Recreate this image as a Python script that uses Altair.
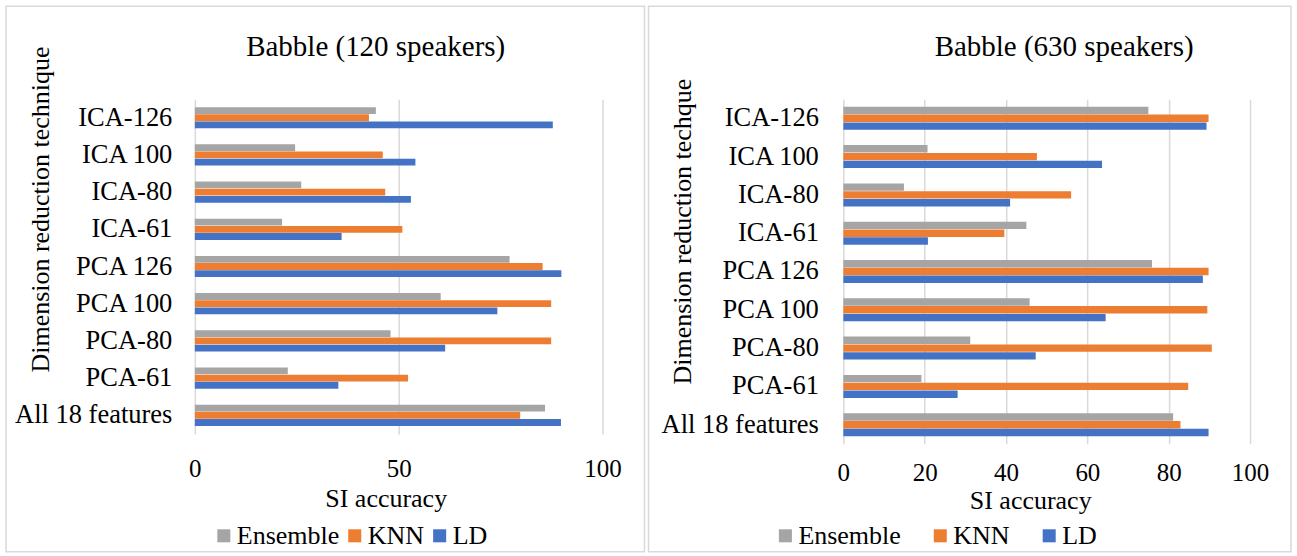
import altair as alt
import pandas as pd

# Feature sets (top to bottom) and the three classifiers
categories = ["ICA-126", "ICA 100", "ICA-80", "ICA-61", "PCA 126",
              "PCA 100", "PCA-80", "PCA-61", "All 18 features"]
series = ["Ensemble", "KNN", "LD"]
colors = ["#A5A5A5", "#ED7D31", "#4472C4"]

# SI accuracy, babble noise with 120 speakers
ens_120 = [44.4, 24.6, 26.1, 21.4, 77.2, 60.3, 48.0, 22.8, 85.9]
knn_120 = [42.7, 46.1, 46.7, 50.9, 85.3, 87.4, 87.4, 52.3, 79.8]
ld_120 = [87.8, 54.1, 53.0, 36.0, 89.9, 74.2, 61.4, 35.2, 89.8]

# SI accuracy, babble noise with 630 speakers
ens_630 = [75.0, 20.7, 14.9, 45.0, 75.9, 45.8, 31.2, 19.2, 81.1]
knn_630 = [89.8, 47.6, 56.0, 39.6, 89.8, 89.5, 90.6, 84.8, 82.9]
ld_630 = [89.3, 63.6, 41.0, 20.8, 88.4, 64.5, 47.3, 28.1, 89.8]

ticks_120 = [0, 50, 100]
ticks_630 = [0, 20, 40, 60, 80, 100]

FONT = "Liberation Serif"
GRID = "#D9D9D9"


def long_table(ens, knn, ld):
    rows = []
    for name, vals in zip(series, [ens, knn, ld]):
        for cat, v in zip(categories, vals):
            rows.append({"technique": cat, "classifier": name, "accuracy": v})
    return pd.DataFrame(rows)


one = pd.DataFrame({"k": [0]})


def panel(df, title, ytitle, ticks, w, h, frame, title_x, ytitle_xy,
          xtitle_xy, x_label_pad, y_label_pad, band_pad, legend_xy, legend_gap):
    border = alt.Chart(one).mark_rect(
        fillOpacity=0, stroke=GRID, strokeWidth=1.5
    ).encode(
        x=alt.value(frame[0]), x2=alt.value(frame[1]),
        y=alt.value(frame[2]), y2=alt.value(frame[3]),
    )
    bars = alt.Chart(df).mark_bar().encode(
        y=alt.Y(
            "technique:N", sort=categories,
            scale=alt.Scale(paddingInner=band_pad, paddingOuter=band_pad / 2),
            axis=alt.Axis(
                title=ytitle, domain=False, ticks=False, grid=False,
                labelFont=FONT, labelFontSize=26.5, labelColor="black",
                labelPadding=y_label_pad,
                titleFont=FONT, titleFontSize=26, titleFontWeight="normal",
                titleColor="black", titleAngle=270, titleAlign="center",
                titleBaseline="middle",
                titleX=ytitle_xy[0], titleY=ytitle_xy[1],
            ),
        ),
        yOffset=alt.YOffset("classifier:N", sort=series,
                            scale=alt.Scale(paddingInner=0.05)),
        x=alt.X(
            "accuracy:Q",
            scale=alt.Scale(domain=[0, 100], nice=False),
            axis=alt.Axis(
                title="SI accuracy", values=ticks, domain=False, ticks=False,
                grid=True, gridColor=GRID, gridWidth=1.5, labelFlush=False,
                labelFont=FONT, labelFontSize=25, labelColor="black",
                labelPadding=x_label_pad,
                titleFont=FONT, titleFontSize=26, titleFontWeight="normal",
                titleColor="black", titleBaseline="top", titleAlign="center",
                titleX=xtitle_xy[0], titleY=xtitle_xy[1],
            ),
        ),
        color=alt.Color(
            "classifier:N", sort=series,
            scale=alt.Scale(domain=series, range=colors),
            legend=alt.Legend(
                title=None, orient="none", direction="horizontal",
                legendX=legend_xy[0], legendY=legend_xy[1],
                symbolType="square", symbolSize=170, symbolStrokeWidth=0,
                symbolOpacity=1, labelFont=FONT, labelFontSize=26,
                labelColor="black", labelOffset=0, columnPadding=legend_gap,
                padding=0,
            ),
        ),
    )
    heading = alt.Chart(one).mark_text(
        font=FONT, fontSize=29, color="black", align="center",
        baseline="alphabetic",
    ).encode(
        x=alt.value(title_x), y=alt.value(-43), text=alt.value(title),
    )
    return alt.layer(border, bars, heading).properties(width=w, height=h)


left = panel(
    long_table(ens_120, knn_120, ld_120), "Babble (120 speakers)",
    "Dimension reduction technique", ticks_120, 408, 335,
    frame=(-189, 450, -93, 453), title_x=181, ytitle_xy=(-154, 110),
    xtitle_xy=(191, 52), x_label_pad=23, y_label_pad=23, band_pad=0.43,
    legend_xy=(16, 424), legend_gap=2,
)
right = panel(
    long_table(ens_630, knn_630, ld_630), "Babble (630 speakers)",
    "Dimension reduction techque", ticks_630, 407, 345,
    frame=(-195, 448, -93, 453), title_x=221, ytitle_xy=(-161, 132),
    xtitle_xy=(187, 44), x_label_pad=17, y_label_pad=25, band_pad=0.40,
    legend_xy=(-71, 424), legend_gap=26,
)

chart = alt.hconcat(left, right, spacing=2).resolve_scale(
    color="independent", yOffset="independent"
).resolve_legend(color="independent").configure(
    padding={"left": 5, "top": 5, "right": 5, "bottom": 5},
    background="white",
).configure_view(stroke=None)

chart.save("out.html", embed_options={"renderer": "svg", "actions": False})
